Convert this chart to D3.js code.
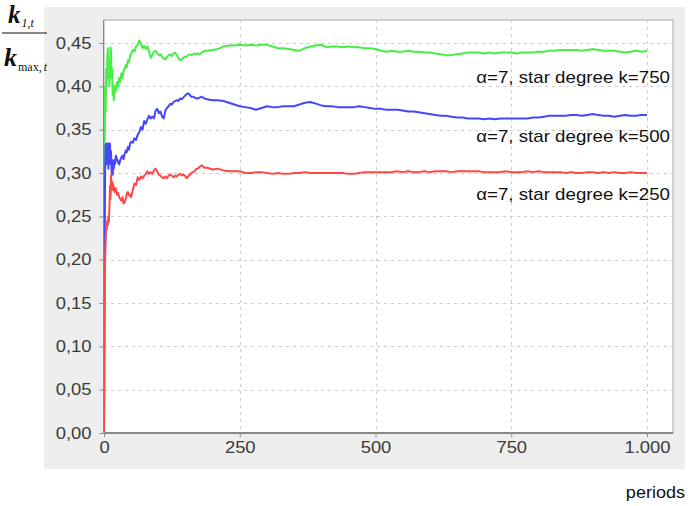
<!DOCTYPE html>
<html>
<head>
<meta charset="utf-8">
<script src="https://cdn.jsdelivr.net/npm/d3@7"></script>
<style>
  html, body { margin: 0; padding: 0; background: #ffffff; }
  svg { display: block; }
</style>
</head>
<body>
<svg id="chart" width="688" height="506"></svg>
<script>
// ---------------- DATA ----------------
const periods = [0,1,2,3,4,5,6,7,8,9,10,11,12,13,14,15,16,17,18,19,20,
  22,24,26,28,30,32,34,36,38,40,42,44,46,48,50,
  53,56,59,62,65,68,71,74,77,80,83,86,89,92,95,98,101,104,107,110,113,116,119,122,125,128,131,134,137,140,143,146,149,152,155,158,161,164,167,170,173,176,
  180,185,190,
  200,210,220,230,240,250,260,270,280,290,300,310,320,330,340,350,360,370,380,390,400,
  410,420,430,440,450,460,470,480,490,500,510,520,530,540,550,560,570,580,590,600,
  610,620,630,640,650,660,670,680,690,700,710,720,730,740,750,760,770,780,790,800,
  810,820,830,840,850,860,870,880,890,900,910,920,930,940,950,960,970,980,990,1000];

const star750 = [0.000,0.300,0.400,0.370,0.420,0.400,0.430,0.444,0.410,0.430,0.400,0.420,0.445,0.440,0.410,0.420,0.390,0.400,0.384,0.390,0.400,
  0.395,0.405,0.400,0.410,0.405,0.415,0.410,0.418,0.420,0.425,0.422,0.430,0.428,0.435,0.438,
  0.442,0.440,0.446,0.448,0.453,0.449,0.444,0.447,0.443,0.446,0.440,0.433,0.436,0.440,0.441,0.438,0.436,0.437,0.434,0.432,0.431,0.434,0.436,0.437,0.435,0.438,0.439,0.436,0.433,0.430,0.431,0.433,0.434,0.434,0.436,0.437,0.436,0.437,0.438,0.437,0.438,0.437,
  0.439,0.441,0.441,
  0.442,0.443,0.446,0.447,0.447,0.448,0.447,0.448,0.447,0.448,0.448,0.446,0.444,0.444,0.443,0.442,0.441,0.444,0.446,0.447,0.448,
  0.445,0.446,0.446,0.445,0.446,0.445,0.445,0.444,0.444,0.443,0.441,0.440,0.441,0.440,0.440,0.441,0.440,0.440,0.439,0.439,
  0.438,0.437,0.436,0.436,0.437,0.438,0.439,0.439,0.439,0.438,0.439,0.438,0.439,0.439,0.439,0.438,0.439,0.439,0.439,0.440,
  0.440,0.441,0.441,0.442,0.442,0.442,0.442,0.441,0.442,0.443,0.442,0.441,0.441,0.441,0.440,0.439,0.440,0.441,0.440,0.441];

const star500 = [0.000,0.200,0.300,0.333,0.310,0.334,0.320,0.334,0.305,0.334,0.320,0.334,0.310,0.325,0.300,0.315,0.298,0.310,0.305,0.315,0.310,
  0.320,0.316,0.312,0.310,0.315,0.318,0.320,0.316,0.322,0.326,0.324,0.330,0.327,0.334,0.336,
  0.335,0.340,0.338,0.344,0.347,0.353,0.350,0.360,0.357,0.362,0.366,0.363,0.365,0.363,0.372,0.374,0.369,0.371,0.365,0.363,0.372,0.375,0.377,0.380,0.379,0.382,0.383,0.384,0.383,0.386,0.385,0.387,0.389,0.391,0.392,0.390,0.388,0.388,0.387,0.386,0.386,0.387,
  0.388,0.386,0.385,
  0.384,0.384,0.383,0.381,0.379,0.377,0.376,0.375,0.373,0.375,0.377,0.376,0.376,0.377,0.377,0.377,0.379,0.381,0.382,0.380,0.378,
  0.377,0.377,0.376,0.376,0.376,0.376,0.377,0.376,0.375,0.374,0.374,0.373,0.373,0.373,0.372,0.371,0.371,0.370,0.369,0.368,
  0.367,0.366,0.366,0.365,0.364,0.364,0.363,0.363,0.363,0.362,0.363,0.362,0.363,0.363,0.363,0.363,0.363,0.363,0.364,0.364,
  0.365,0.366,0.366,0.366,0.366,0.367,0.367,0.366,0.367,0.368,0.367,0.366,0.366,0.365,0.366,0.367,0.366,0.366,0.367,0.367];

const star250 = [0.000,0.120,0.200,0.220,0.240,0.235,0.245,0.240,0.250,0.244,0.260,0.285,0.270,0.298,0.280,0.290,0.282,0.287,0.280,0.283,0.278,
  0.282,0.275,0.277,0.272,0.270,0.268,0.272,0.265,0.266,0.270,0.276,0.278,0.274,0.275,0.272,
  0.280,0.288,0.286,0.295,0.292,0.296,0.294,0.297,0.299,0.302,0.299,0.301,0.299,0.303,0.305,0.302,0.298,0.297,0.295,0.294,0.296,0.294,0.297,0.298,0.297,0.295,0.297,0.296,0.298,0.299,0.297,0.298,0.297,0.294,0.296,0.298,0.300,0.301,0.302,0.305,0.305,0.307,
  0.309,0.306,0.306,
  0.304,0.305,0.303,0.302,0.302,0.302,0.300,0.300,0.301,0.301,0.300,0.299,0.300,0.299,0.299,0.300,0.300,0.301,0.300,0.300,0.300,
  0.300,0.300,0.300,0.300,0.299,0.299,0.300,0.301,0.301,0.301,0.301,0.301,0.301,0.302,0.301,0.302,0.301,0.301,0.302,0.301,
  0.302,0.302,0.302,0.301,0.302,0.302,0.302,0.302,0.302,0.301,0.301,0.301,0.301,0.302,0.301,0.301,0.301,0.302,0.301,0.302,
  0.301,0.301,0.301,0.301,0.300,0.301,0.300,0.300,0.301,0.301,0.300,0.301,0.300,0.301,0.300,0.300,0.301,0.300,0.300,0.300];

const seriesLabels = ["α=7, star degree k=750", "α=7, star degree k=500", "α=7, star degree k=250"];
const seriesColors = ["#46ee46", "#4646ff", "#ff4848"];
const xTickValues = [0, 250, 500, 750, 1000];
const xTickLabels = ["0", "250", "500", "750", "1.000"];
const yTickValues = [0, 0.05, 0.10, 0.15, 0.20, 0.25, 0.30, 0.35, 0.40, 0.45];
const yTickLabels = ["0,00","0,05","0,10","0,15","0,20","0,25","0,30","0,35","0,40","0,45"];
const xAxisTitle = "periods";

// ---------------- LAYOUT ----------------
const svg = d3.select("#chart");
const panel = {x: 44, y: 7, w: 641, h: 462};
const plot = {left: 104, top: 20, right: 673, bottom: 433};

const x = d3.scaleLinear().domain([0, 1000]).range([104, 647]);
const y = d3.scaleLinear().domain([0, 0.45]).range([433, 43]);

function stretch(sel, k) {
  sel.each(function() {
    const w = this.getComputedTextLength();
    d3.select(this).attr("textLength", w * k).attr("lengthAdjust", "spacingAndGlyphs");
  });
}

// gray panel
svg.append("rect").attr("x", panel.x).attr("y", panel.y).attr("width", panel.w).attr("height", panel.h)
  .attr("fill", "#eeeeee");

// plot area
svg.append("rect").attr("x", plot.left).attr("y", plot.top)
  .attr("width", plot.right - plot.left).attr("height", plot.bottom - plot.top)
  .attr("fill", "#ffffff").attr("stroke", "#a8a8a8").attr("stroke-width", 1);

// gridlines
const grid = svg.append("g");
grid.selectAll(".vg").data(xTickValues.filter(d => d > 0)).enter().append("line")
  .attr("x1", d => Math.round(x(d)) + 0.5).attr("x2", d => Math.round(x(d)) + 0.5)
  .attr("y1", plot.top).attr("y2", plot.bottom)
  .attr("stroke", "#cccccc").attr("stroke-width", 1).attr("stroke-dasharray", "3,4");
grid.selectAll(".hg").data(yTickValues.filter(d => d > 0)).enter().append("line")
  .attr("x1", plot.left).attr("x2", plot.right)
  .attr("y1", d => Math.round(y(d)) + 0.5).attr("y2", d => Math.round(y(d)) + 0.5)
  .attr("stroke", "#cccccc").attr("stroke-width", 1).attr("stroke-dasharray", "3,4");

// clip
svg.append("clipPath").attr("id", "clip").append("rect")
  .attr("x", plot.left).attr("y", plot.top)
  .attr("width", plot.right - plot.left).attr("height", plot.bottom - plot.top);

// lines
const allSeries = [star750, star500, star250];
const line = d3.line().x((d, i) => x(periods[i])).y(d => y(d));
const lines = svg.append("g").attr("clip-path", "url(#clip)");
allSeries.forEach((s, i) => {
  lines.append("path").datum(s).attr("d", line)
    .attr("fill", "none").attr("stroke", seriesColors[i]).attr("stroke-width", 2)
    .attr("stroke-linejoin", "round");
});

// axes
const xAxis = d3.axisBottom(x).tickValues(xTickValues).tickFormat((d, i) => xTickLabels[i]).tickSize(4).tickSizeOuter(0);
const yAxis = d3.axisLeft(y).tickValues(yTickValues).tickFormat((d, i) => yTickLabels[i]).tickSize(4).tickSizeOuter(0);

const gx = svg.append("g").attr("transform", `translate(0,${plot.bottom})`).call(xAxis);
gx.select(".domain").attr("stroke", "#888").attr("stroke-width", 2).attr("d", `M${plot.left},0H${plot.right}`);
gx.selectAll(".tick line").attr("stroke", "#888");
gx.selectAll(".tick text").attr("fill", "#3a3a3a").attr("font-family", "'Liberation Sans', Arial, sans-serif")
  .attr("font-size", 16).attr("dy", "0.71em").attr("y", 9).call(stretch, 1.15);

const gy = svg.append("g").attr("transform", `translate(${plot.left - 0.5},0)`).call(yAxis);
gy.select(".domain").attr("stroke", "#888").attr("stroke-width", 1).attr("d", `M0,${plot.top}V${plot.bottom}`);
gy.selectAll(".tick line").attr("stroke", "#888");
gy.selectAll(".tick text").attr("fill", "#3a3a3a").attr("font-family", "'Liberation Sans', Arial, sans-serif")
  .attr("font-size", 16).attr("x", -12).call(stretch, 1.15);

// series labels
const labelBaselines = [83, 141.5, 200];
svg.append("g").selectAll("text").data(seriesLabels).enter().append("text")
  .attr("x", 670).attr("y", (d, i) => labelBaselines[i])
  .attr("text-anchor", "end").attr("fill", "#111")
  .attr("font-family", "'Liberation Sans', Arial, sans-serif").attr("font-size", 17)
  .text(d => d).call(stretch, 1.1);

// x axis title
svg.append("text").attr("x", 685).attr("y", 498).attr("text-anchor", "end")
  .attr("font-family", "'Liberation Sans', Arial, sans-serif").attr("font-size", 17).attr("fill", "#111")
  .text(xAxisTitle).call(stretch, 1.06);

// y axis title: fraction k_{1,t} / k_{max,t}
const yt = svg.append("g").attr("font-family", "'Liberation Serif', 'Times New Roman', serif").attr("fill", "#111");
const fracTop = yt.append("text").attr("x", 8).attr("y", 22.5);
fracTop.append("tspan").attr("font-size", 25).attr("font-style", "italic").attr("font-weight", "bold").text("k");
fracTop.append("tspan").attr("font-size", 12).attr("font-style", "italic").attr("dy", 4).attr("dx", 1).text("1,t");
yt.append("line").attr("x1", 2).attr("x2", 47).attr("y1", 33).attr("y2", 33).attr("stroke", "#111").attr("stroke-width", 1);
const fracBot = yt.append("text").attr("x", 4).attr("y", 66);
fracBot.append("tspan").attr("font-size", 26).attr("font-style", "italic").attr("font-weight", "bold").text("k");
fracBot.append("tspan").attr("font-size", 12).attr("dy", 5).attr("dx", 1).text("max,");
fracBot.append("tspan").attr("font-size", 12).attr("font-style", "italic").attr("dx", 2).text("t");
</script>
</body>
</html>
